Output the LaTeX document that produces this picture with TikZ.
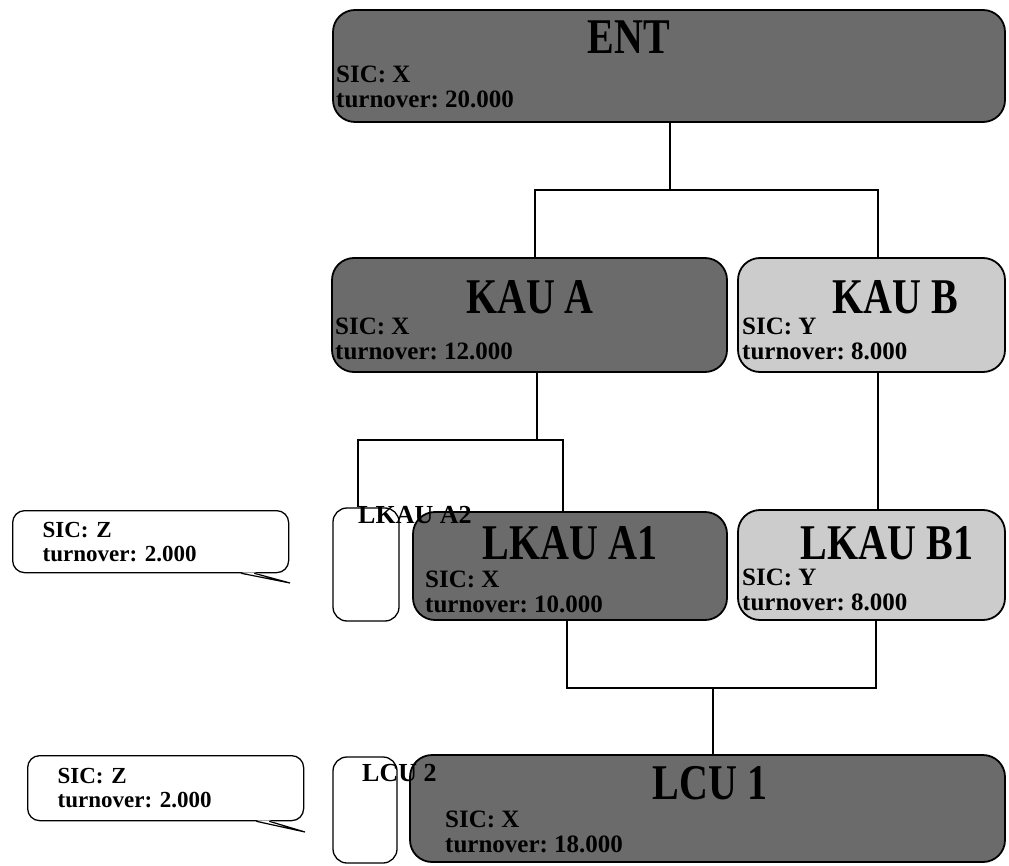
\documentclass[tikz,border=0pt]{standalone}
\usepackage{fontspec}
\setmainfont{Liberation Serif}
\usepackage{tikz}
\usetikzlibrary{positioning}
\usepackage{xcolor}
\definecolor{unitdark}{gray}{0.42}
\definecolor{unitlight}{gray}{0.80}
\newcommand{\tallname}[1]{\scalebox{1}[1.25]{#1}}
\frenchspacing

\begin{document}
\begin{tikzpicture}[
        x=1pt, y=-1pt,
        unit/.style={rectangle, draw, line width=1.8pt, rounded corners=22pt, inner sep=0pt},
        darkunit/.style={unit, fill=unitdark},
        lightunit/.style={unit, fill=unitlight},
        emptyunit/.style={rectangle, draw, line width=1.3pt, rounded corners=14pt, fill=white, inner sep=0pt},
        unit_title/.style={inner sep=0pt, font=\fontsize{40}{40}\selectfont\bfseries},
        unit_info/.style={anchor=north west, inner sep=0pt, align=left, font=\fontsize{25}{25}\selectfont\bfseries},
        unit_label/.style={anchor=base west, inner sep=0pt, font=\fontsize{26}{26}\selectfont\bfseries},
        note/.style={rectangle, draw, line width=1.3pt, rounded corners=12pt, fill=white, anchor=north west, inner xsep=30pt, inner ysep=0pt, text width=216pt, minimum height=62pt, align=left, font=\fontsize{23}{24}\selectfont\bfseries},
        link/.style={line width=1.2pt}
    ]
        \useasboundingbox (0,0) rectangle (1009,866);

        % Enterprise
        \node[darkunit, minimum width=672pt, minimum height=112pt] (ent) at (669,66) {};
        \node[unit_title] (ent_title) at (629,37) {\tallname{ENT}};
        \node[unit_info] (ent_info) at (336,66) {SIC: X\\turnover: 20.000};

        % Kind-of-activity units
        \node[darkunit, minimum width=395pt, minimum height=114pt] (kaua) at (529.5,315) {};
        \node[unit_title] (kaua_title) at (530,297) {\tallname{KAU A}};
        \node[unit_info] (kaua_info) at (335,318) {SIC: X\\turnover: 12.000};

        \node[lightunit, minimum width=267pt, minimum height=114pt] (kaub) at (871.5,315) {};
        \node[unit_title] (kaub_title) at (895,297) {\tallname{KAU B}};
        \node[unit_info] (kaub_info) at (742,318) {SIC: Y\\turnover: 8.000};

        % Local kind-of-activity units
        \node[emptyunit, minimum width=66pt, minimum height=113pt] (lkaua2) at (366,564.5) {};
        \node[darkunit, minimum width=314pt, minimum height=108pt] (lkaua1) at (570,566) {};
        \node[unit_title] (lkaua1_title) at (570,543) {\tallname{LKAU A1}};
        \node[unit_info] (lkaua1_info) at (425,571) {SIC: X\\turnover: 10.000};
        \node[unit_label] (lkaua2_label) at (358,523) {LKAU A2};

        \node[lightunit, minimum width=267pt, minimum height=110pt] (lkaub1) at (871.5,565) {};
        \node[unit_title] (lkaub1_title) at (887,543) {\tallname{LKAU B1}};
        \node[unit_info] (lkaub1_info) at (742,569) {SIC: Y\\turnover: 8.000};

        % Local units
        \node[emptyunit, minimum width=64pt, minimum height=106pt] (lcu2) at (365,810) {};
        \node[darkunit, minimum width=595pt, minimum height=107pt] (lcu1) at (707.5,808.5) {};
        \node[unit_title] (lcu1_title) at (710,783) {\tallname{LCU 1}};
        \node[unit_info] (lcu1_info) at (445,811) {SIC: X\\turnover: 18.000};
        \node[unit_label] (lcu2_label) at (362,781) {LCU 2};

        % Callouts
        \node[note] (note_lkau) at (12,510) {SIC: Z\\turnover: 2.000};
        \coordinate (tip_lkau) at (290,583);
        \fill[white] ([xshift=-48pt,yshift=1pt]note_lkau.south east) -- (tip_lkau) -- ([xshift=-35pt,yshift=1pt]note_lkau.south east) -- cycle;
        \draw[link] ([xshift=-48pt]note_lkau.south east) -- (tip_lkau) -- ([xshift=-35pt]note_lkau.south east);

        \node[note, minimum height=65pt] (note_lcu) at (27,755) {SIC: Z\\turnover: 2.000};
        \coordinate (tip_lcu) at (305,832);
        \fill[white] ([xshift=-48pt,yshift=1pt]note_lcu.south east) -- (tip_lcu) -- ([xshift=-35pt,yshift=1pt]note_lcu.south east) -- cycle;
        \draw[link] ([xshift=-48pt]note_lcu.south east) -- (tip_lcu) -- ([xshift=-35pt]note_lcu.south east);

        % Connections
        \coordinate (ent_stem) at (670,190);
        \coordinate (bus_kau_l) at (535,190);
        \coordinate (bus_kau_r) at (878,190);
        \draw[link] (ent_stem |- ent.south) -- (ent_stem);
        \draw[link] (bus_kau_l |- kaua.north) -- (bus_kau_l) -- (bus_kau_r) -- (bus_kau_r |- kaub.north);

        \coordinate (kaua_stem) at (537,440);
        \coordinate (bus_lkau_l) at (358,440);
        \coordinate (bus_lkau_r) at (563,440);
        \draw[link] (kaua_stem |- kaua.south) -- (kaua_stem);
        \draw[link] (bus_lkau_l |- lkaua2.north) -- (bus_lkau_l) -- (bus_lkau_r) -- (bus_lkau_r |- lkaua1.north);
        \draw[link] (bus_kau_r |- kaub.south) -- (bus_kau_r |- lkaub1.north);

        \coordinate (bus_lcu_l) at (567,688);
        \coordinate (bus_lcu_r) at (876,688);
        \coordinate (lcu_stem) at (713,688);
        \draw[link] (bus_lcu_l |- lkaua1.south) -- (bus_lcu_l) -- (bus_lcu_r) -- (bus_lcu_r |- lkaub1.south);
        \draw[link] (lcu_stem) -- (lcu_stem |- lcu1.north);

    \end{tikzpicture}
\end{document}
